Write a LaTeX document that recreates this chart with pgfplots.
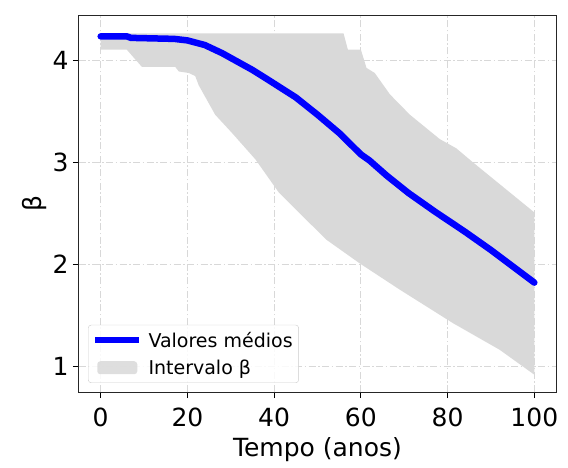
\documentclass[border=0pt]{standalone}
\usepackage{pgfplots}
\pgfplotsset{compat=1.18}
\usepgfplotslibrary{fillbetween}
\usepackage{fontspec}
\setmainfont{DejaVu Sans}
\definecolor{bandgray}{HTML}{D9D9D9}
\definecolor{gridgray}{HTML}{D8D8D8}
\begin{document}
\begin{tikzpicture}
\begin{axis}[
  scale only axis,
  width=477pt, height=376pt,
  xmin=-5, xmax=105, ymin=0.745, ymax=4.44,
  xtick={0,20,40,60,80,100}, ytick={1,2,3,4},
  tick pos=left, tick align=outside,
  major tick length=6pt,
  every tick/.style={black, line width=1pt},
  axis line style={line width=1pt, black!85},
  /pgf/number format/assume math mode=true,
  tick label style={font=\fontsize{25}{29}\selectfont},
  xticklabel style={yshift=-6pt},
  yticklabel style={xshift=-1pt},
  label style={font=\fontsize{25}{29}\selectfont},
  xlabel={Tempo (anos)},
  ylabel={β},
  xlabel style={yshift=-4pt},
  ylabel style={yshift=-1pt},
  grid=major,
  major grid style={gridgray, line width=0.9pt, dash pattern=on 7pt off 2.5pt on 1.5pt off 2.5pt},
  legend cell align=left,
  legend style={at={(rel axis cs:0.019,0.024)}, anchor=south west,
    draw=black!20, rounded corners=3pt, fill=white, fill opacity=0.85, text opacity=1,
    font=\fontsize{19}{23}\selectfont, row sep=7pt, inner xsep=4pt, inner ysep=5pt},
]
\addplot[name path=up, draw=none, forget plot] coordinates {
(0,4.27) (56,4.27) (57,4.11) (60,4.11) (61.3,3.93) (63.2,3.88) (66.7,3.67)
(71.3,3.47) (78.2,3.23) (82,3.14) (85.9,3.0) (100,2.51)};
\addplot[name path=lo, draw=none, forget plot] coordinates {
(0,4.11) (6,4.11) (9.5,3.94) (17.2,3.94) (18,3.895) (20.3,3.88) (21.8,3.85)
(22.6,3.76) (26.4,3.47) (30.3,3.29) (35.7,3.03) (41,2.71) (45.9,2.50)
(52.1,2.24) (59.7,2.01) (69,1.75) (81.3,1.42) (92,1.16) (100,0.915)};
\addplot[blue, line width=6.5pt, line cap=round,
  legend image code/.code={\draw[blue, line width=6pt, line cap=butt] (0pt,0pt) -- (44pt,0pt);\path (48pt,0pt);}]
coordinates {
(0,4.24) (6,4.24) (7,4.225) (17,4.215) (20,4.20) (24,4.155) (28,4.075)
(35,3.91) (38,3.83) (45,3.64) (50,3.47) (55,3.29) (60,3.08) (62,3.02)
(66,2.87) (71,2.70) (77,2.52) (84,2.32) (90,2.14) (100,1.82)};
\addlegendentry{Valores médios}
\addplot[bandgray, draw=none,
  legend image code/.code={\fill[bandgray] (2pt,-6.5pt) rectangle (42pt,6.5pt);\path (48pt,0pt);}]
  fill between[of=up and lo];
\addlegendentry{Intervalo β}
\end{axis}
\pgfresetboundingbox
\path ([shift={(-79pt,-75pt)}]current axis.south west) rectangle ([shift={(12pt,16pt)}]current axis.north east);
\end{tikzpicture}
\end{document}
